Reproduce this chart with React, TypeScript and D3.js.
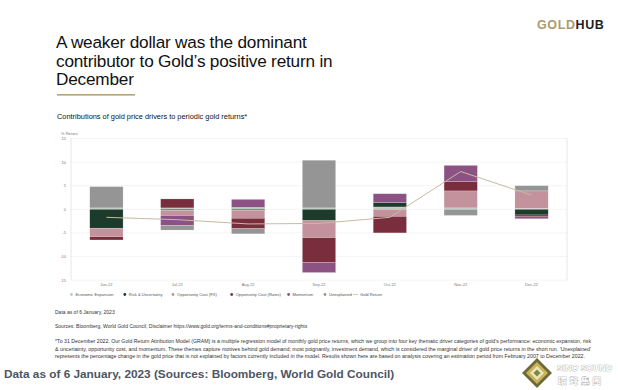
import React from 'react'
import * as d3 from 'd3'

const months = ['Jun-22', 'Jul-22', 'Aug-22', 'Sep-22', 'Oct-22', 'Nov-22', 'Dec-22']
const econExpansion = [0.3, 0.3, 0.4, 0.3, 0.5, 0.3, 0.2]
const riskUncertainty = [-4.0, -0.2, -0.2, -2.4, 0.9, 0, -1.2]
const oppCostFx = [-1.8, -1.1, -1.7, -3.6, -1.5, 3.6, 3.7]
const oppCostRates = [-0.7, 1.9, -2.2, -5.3, -3.5, 2.0, -0.4]
const momentum = [0, -2.1, 1.7, -2.1, 1.9, 3.4, -0.4]
const unexplained = [4.5, -1.0, -1.1, 10.1, 0, -1.3, 1.1]
const goldReturn = [-1.7, -2.2, -3.1, -3.0, -1.7, 8.0, 3.0]
const yTicks = [15, 10, 5, 0, -5, -10, -15]

const seriesNames = ['Economic Expansion', 'Risk & Uncertainty', 'Opportunity Cost (FX)', 'Opportunity Cost (Rates)', 'Momentum', 'Unexplained']
const seriesValues = [econExpansion, riskUncertainty, oppCostFx, oppCostRates, momentum, unexplained]
const seriesColors = ['#bccac2', '#1c3b2b', '#c4929d', '#7a2e3d', '#8b5283', '#959595']

const titleLines = ['A weaker dollar was the dominant', 'contributor to Gold\u2019s positive return in', 'December']
const footnote = [
  "*To 31 December 2022. Our Gold Return Attribution Model (GRAM) is a multiple regression model of monthly gold price returns, which we group into four key thematic driver categories of gold's performance: economic expansion, risk",
  "& uncertainty, opportunity cost, and momentum. These themes capture motives behind gold demand; most poignantly, investment demand, which is considered the marginal driver of gold price returns in the short run. 'Unexplained'",
  'represents the percentage change in the gold price that is not explained by factors currently included in the model. Results shown here are based on analysis covering an estimation period from February 2007 to December 2022.',
]

const FONT = 'Liberation Sans, Arial, sans-serif'

export default function App() {
  const W = 618
  const H = 390
  const left = 71
  const right = 567

  const x = d3.scaleBand<string>().domain(months).range([left, right]).paddingInner(0.53).paddingOuter(0.265)
  const y = d3.scaleLinear().domain([-15, 15]).range([280.1, 138.5])

  // one row per month, keys are series indexes
  const rows = months.map((m, i) => {
    const r: Record<string, number | string> = { month: m }
    seriesValues.forEach((s, k) => (r[String(k)] = s[i]))
    return r
  })
  const stacked = d3
    .stack<Record<string, number | string>>()
    .keys(seriesNames.map((_, k) => String(k)))
    .value((d, key) => d[key] as number)
    .offset(d3.stackOffsetDiverging)(rows)

  const line = d3
    .line<number>()
    .x((_, i) => (x(months[i]) as number) + x.bandwidth() / 2)
    .y((d) => y(d))

  const legendX = [71.4, 124.8, 173, 231.7, 288.6, 325]

  return (
    <svg width={W} height={H} style={{ position: 'absolute', left: 0, top: 0, background: '#fff' }} fontFamily={FONT}>
      <rect width={W} height={H} fill="#fff" />
      {/* header */}
      <text x={537} y={29} fontSize={12.5} fontWeight={700} letterSpacing={0.6}>
        <tspan fill="#a99b72">GOLD</tspan>
        <tspan fill="#1f1f1f">HUB</tspan>
      </text>
      {titleLines.map((t, i) => (
        <text key={i} x={56} y={48 + i * 18.5} fontSize={17.2} fill="#111" letterSpacing={-0.2}>
          {t}
        </text>
      ))}
      <rect x={57} y={94} width={78} height={1.6} fill="#b3a27c" />
      <text x={57} y={119} fontSize={7.4} fill="#111">
        Contributions of gold price drivers to periodic gold returns*
      </text>

      {/* plot frame and grid */}
      {yTicks.map((t) => (
        <g key={t}>
          <line x1={left} x2={right} y1={y(t)} y2={y(t)} stroke="#ececec" strokeWidth={0.6} />
          <text x={66} y={y(t) + 1.4} fontSize={4} fill="#777" textAnchor="end">
            {t}
          </text>
        </g>
      ))}
      <line x1={left} x2={left} y1={y(15)} y2={y(-15)} stroke="#dcdcdc" strokeWidth={0.7} />
      <line x1={right} x2={right} y1={y(15)} y2={y(-15)} stroke="#dcdcdc" strokeWidth={0.7} />
      <text x={61} y={134.5} fontSize={4} fill="#777">
        % Return
      </text>

      {/* stacked bars */}
      {stacked.map((s, k) => (
        <g key={k} fill={seriesColors[k]}>
          {s.map((d, i) => {
            const y0 = y(d[0])
            const y1 = y(d[1])
            const h = Math.abs(y0 - y1)
            if (h < 0.01) return null
            return (
              <rect
                key={i}
                x={x(months[i])}
                y={Math.min(y0, y1)}
                width={x.bandwidth()}
                height={h}
                stroke="#ffffff"
                strokeOpacity={0.5}
                strokeWidth={0.4}
              />
            )
          })}
        </g>
      ))}
      <path d={line(goldReturn) || ''} fill="none" stroke="#c8baa2" strokeWidth={1} />

      {/* x labels */}
      {months.map((m) => (
        <text key={m} x={(x(m) as number) + x.bandwidth() / 2} y={286} fontSize={4} fill="#777" textAnchor="middle">
          {m}
        </text>
      ))}

      {/* legend */}
      {seriesNames.map((n, k) => (
        <g key={n}>
          <circle cx={legendX[k]} cy={294.5} r={1.4} fill={seriesColors[k]} />
          <text x={legendX[k] + 4} y={296} fontSize={4.1} fill="#555">
            {n}
          </text>
        </g>
      ))}
      <line x1={353} x2={358} y1={294.5} y2={294.5} stroke="#c8baa2" strokeWidth={0.8} />
      <text x={360} y={296} fontSize={4.1} fill="#555">
        Gold Return
      </text>

      {/* notes */}
      <text x={55} y={314} fontSize={5} fill="#333">
        Data as of 6 January, 2023
      </text>
      <text x={55} y={328} fontSize={5} fill="#333">
        Sources: Bloomberg, World Gold Council; Disclaimer https://www.gold.org/terms-and-conditions#proprietary-rights
      </text>
      {footnote.map((t, i) => (
        <text key={i} x={55} y={343 + i * 7.6} fontSize={4.6} fill="#333" textLength={i === 2 ? 530 : 536} lengthAdjust="spacingAndGlyphs">
          {t}
        </text>
      ))}

      {/* bottom caption */}
      <text x={4} y={378} fontSize={11.8} fontWeight={700} fill="#4d5563">
        Data as of 6 January, 2023 (Sources: Bloomberg, World Gold Council)
      </text>

      {/* watermark logo */}
      <g transform="translate(537,373)">
        <path d="M0,-15 L15,0 L0,15 L-15,0 Z" fill="#6d6a3a" />
        <path d="M0,-11 L11,0 L0,11 L-11,0 Z" fill="#c9b45a" />
        <path d="M0,-7 L7,0 L0,7 L-7,0 Z" fill="#e9e3c0" />
        <path d="M0,-3.5 L3.5,0 L0,3.5 L-3.5,0 Z" fill="#7d8a3c" />
      </g>
      <text x={557} y={371} fontSize={9} fontWeight={700} fill="#ffffff" stroke="#9a9a9a" strokeWidth={0.6} paintOrder="stroke" textLength={55} lengthAdjust="spacingAndGlyphs">
        SINO SOUND
      </text>
      <text x={558} y={384} fontSize={8.5} fontWeight={700} fill="#ffffff" stroke="#9a9a9a" strokeWidth={0.6} paintOrder="stroke" letterSpacing={3} fontFamily="Noto Sans CJK TC, sans-serif">
        環聲集團
      </text>
    </svg>
  )
}
